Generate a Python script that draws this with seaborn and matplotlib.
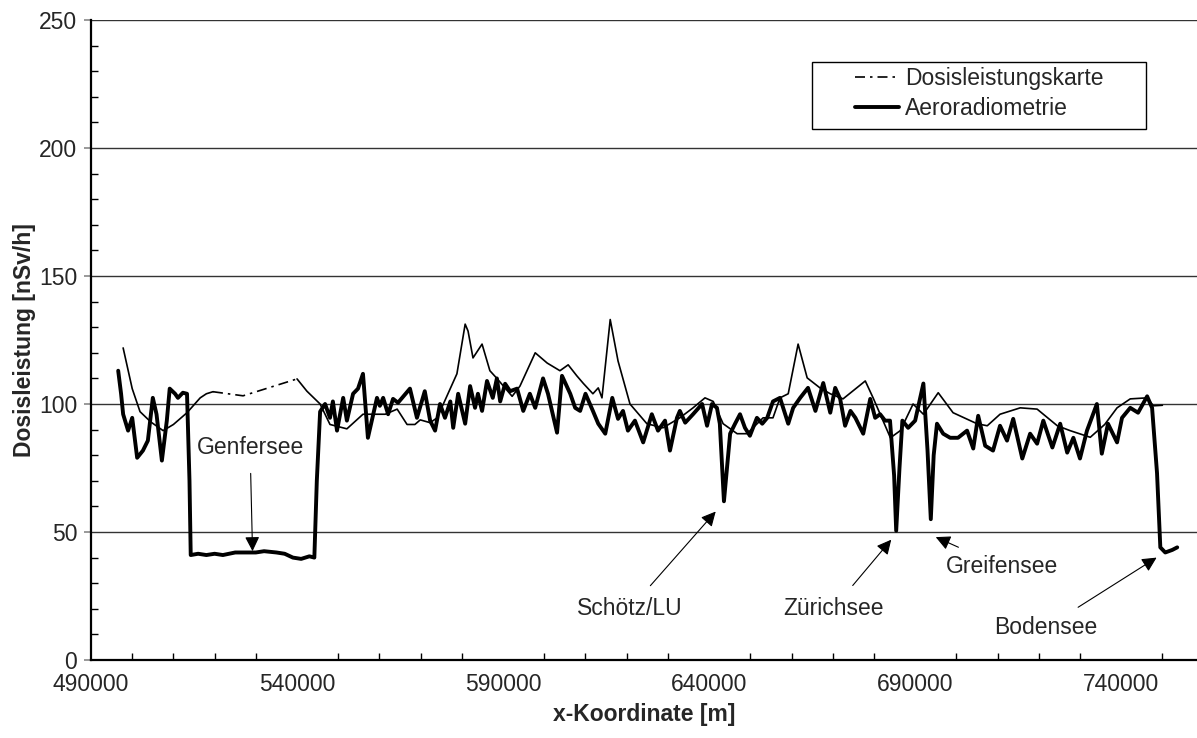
import numpy as np
import pandas as pd
import matplotlib
matplotlib.use('Agg')
import matplotlib.pyplot as plt
from matplotlib.lines import Line2D
from matplotlib.patches import Rectangle
from matplotlib.ticker import MultipleLocator
import seaborn as sns

# Aeroradiometrie (thick line)
aero_x = [496600, 497300, 497800, 499000, 500000, 501200, 502600, 503800, 505000, 505900,
          507200, 508400, 509100, 510400, 511100, 512300, 513300, 513900, 514200, 516000,
          518000, 520000, 522000, 525000, 527000, 530000, 532000, 535000, 537000, 539000,
          541000, 543000, 544200, 544800, 545600, 546800, 548000, 548700, 549700, 551200,
          552100, 553600, 554800, 556000, 557200, 559400, 560100, 560900, 562100, 563300,
          564500, 567400, 569100, 571000, 572300, 573500, 574700, 575900, 577200, 577900,
          579100, 580800, 582000, 583200, 583900, 584900, 586100, 587500, 588500, 589300,
          590500, 591700, 593400, 594900, 596500, 597800, 599700, 600900, 603100, 604300,
          606300, 607500, 608700, 610000, 611800, 613100, 614800, 616500, 617900, 619100,
          620300, 622000, 624000, 626100, 627600, 629300, 630500, 632200, 632900, 634200,
          636100, 638300, 639500, 640700, 641900, 642600, 643600, 645100, 646300, 647500,
          648700, 649900, 651600, 652900, 654100, 655500, 657200, 659200, 660400, 662100,
          664000, 665800, 667700, 669400, 670600, 671800, 673000, 674300, 675500, 677400,
          679100, 680300, 681500, 682700, 683900, 684900, 685400, 686200, 686900, 688300,
          690000, 692000, 693000, 693800, 694500, 695300, 696800, 698500, 700400, 702600,
          704100, 705300, 707000, 708900, 710600, 712300, 713800, 716000, 717900, 719600,
          721100, 723300, 725200, 726900, 728400, 730000, 731700, 734100, 735300, 736800,
          739000, 740200, 742200, 744100, 746300, 747500, 748700, 749500, 750700, 752400,
          753600]
aero_y = [113, 104, 96, 89.6, 94.6, 79, 81.8, 85.7, 102.4, 96,
          77.9, 93.5, 106, 104, 102.4, 104.4, 104, 70, 41, 41.5,
          41, 41.5, 41, 42, 42, 42, 42.5, 42, 41.5, 40,
          39.5, 40.5, 40, 70, 97, 100, 94.6, 101, 89.6, 102.4,
          93.5, 104, 106, 111.8, 86.8, 102.4, 99.3, 102.4, 96, 102,
          100.5, 106, 94.6, 105, 93.5, 89.6, 100, 94.6, 101, 90.7,
          104, 92.3, 107, 98.5, 104, 97.3, 109, 102.4, 110, 101,
          107.9, 105, 106, 97.3, 104, 98.5, 110, 104, 88.8, 111,
          104, 98.5, 97.3, 104, 97.3, 92.3, 88.4, 102.4, 94.2, 97.3,
          89.6, 93.5, 85, 96, 89.6, 93.5, 81.8, 94.6, 97.3, 92.7,
          96, 100, 91.5, 100, 98.5, 92.3, 62, 88.4, 92.3, 96,
          90.7, 87.6, 94.6, 92.3, 94.6, 101, 102.4, 92.3, 98.5, 102.4,
          106.3, 97.3, 108.2, 96.6, 106.3, 102, 91.5, 97.3, 94.6, 88.4,
          102, 94.6, 96, 93.5, 93.5, 72, 50.5, 75, 93.5, 90.7,
          93.5, 108, 82, 55, 80, 92.3, 88.4, 86.8, 86.8, 89.6,
          82.6, 95.4, 83.7, 81.8, 91.5, 85.7, 94.2, 78.7, 88.4, 84.5,
          93.5, 83, 92.3, 81, 86.8, 78.7, 89.6, 100, 80.6, 92.3,
          85, 94.6, 98.5, 96.6, 103, 98.5, 73, 44, 42, 43,
          44]

# Dosisleistungskarte (thin line); the middle part is an interpolated gap
map_west_x = [497800, 500000, 501900, 504500, 507500, 510000, 513300, 516500, 518000, 519600]
map_west_y = [121.9, 106, 97, 93, 89.6, 92, 96.6, 102.4, 104, 104.8]
map_gap_x = [519600, 526900, 540000]
map_gap_y = [104.8, 103.2, 109.8]
map_east_x = [540000, 542400, 545600, 548000, 552100, 556000, 561400, 564300, 566700, 568600,
              569900, 572300, 574000, 578800, 580800, 581500, 582700, 584900, 586800, 588500,
              592200, 594100, 597800, 600700, 603800, 605800, 607900, 609500, 611800, 613100,
              614000, 616000, 617900, 620800, 624900, 628800, 632900, 636100, 639000, 641000,
              643400, 646800, 649200, 653100, 655500, 657200, 659200, 661600, 663800, 666900,
              669400, 672500, 677900, 679800, 684000, 686400, 689500, 692000, 695600, 699200,
              705000, 707500, 710600, 715500, 719600, 724500, 727600, 732500, 736000, 739000,
              742200, 746300, 747800, 750000]
map_east_y = [109.8, 105, 100, 92, 90.3, 96, 96, 98, 92, 92,
              93.8, 92.7, 94.6, 111.8, 131.2, 128.5, 118, 123.4, 113, 110,
              103, 107, 120, 116, 113, 115.3, 111, 108, 104, 106.3,
              102.4, 133, 116.8, 100, 92.3, 90.7, 94.6, 98.5, 102.4, 101,
              92.3, 88.4, 88.4, 94.6, 94.6, 102.4, 104, 123.4, 110.2, 106.3,
              104, 102, 109, 102.4, 86.8, 89.6, 100, 96, 104.4, 96.6,
              92.3, 91.5, 96, 98.5, 98, 91.5, 89.6, 87, 92, 98.5,
              102, 102.4, 99.3, 99.5]

# annotations: label, arrow tip (x, y), text centre (x, y)
lake_names = ['Genfersee', 'Schötz/LU', 'Zürichsee', 'Greifensee', 'Bodensee']
lake_tip_x = [529200, 641600, 684200, 695000, 748600]
lake_tip_y = [42.5, 58, 47, 48, 40]
lake_txt_x = [528600, 620800, 670100, 711000, 721600]
lake_txt_y = [83, 20, 20, 36.5, 12.5]

FS = 16.5

sns.set_theme(style='white')
plt.rcParams['font.family'] = ['Liberation Sans', 'DejaVu Sans']
plt.rcParams['font.size'] = FS

fig = plt.figure(figsize=(11.97, 7.38), dpi=100)
ax = fig.add_axes([91 / 1197, 78 / 738, 1106 / 1197, 640 / 738])

aero = pd.DataFrame({'x': aero_x, 'y': aero_y})
west = pd.DataFrame({'x': map_west_x, 'y': map_west_y})
gap = pd.DataFrame({'x': map_gap_x, 'y': map_gap_y})
east = pd.DataFrame({'x': map_east_x, 'y': map_east_y})

dashdot = (0, (6, 3, 1.5, 3))
sns.lineplot(data=west, x='x', y='y', ax=ax, color='black', lw=1.2, sort=False, estimator=None)
sns.lineplot(data=gap, x='x', y='y', ax=ax, color='black', lw=1.2, sort=False, estimator=None,
             linestyle=dashdot)
sns.lineplot(data=east, x='x', y='y', ax=ax, color='black', lw=1.2, sort=False, estimator=None)
sns.lineplot(data=aero, x='x', y='y', ax=ax, color='black', lw=2.8, sort=False, estimator=None,
             solid_joinstyle='round')

for name, tx, ty, lx, ly in zip(lake_names, lake_tip_x, lake_tip_y, lake_txt_x, lake_txt_y):
    ax.annotate(name, xy=(tx, ty), xytext=(lx, ly), ha='center', va='center', fontsize=FS,
                arrowprops=dict(arrowstyle='-|>', color='black', lw=0.8, mutation_scale=22,
                                shrinkA=8, shrinkB=0))

ax.set_xlim(490000, 758400)
ax.set_ylim(0, 250)
ax.xaxis.set_minor_locator(MultipleLocator(10000))
ax.yaxis.set_major_locator(MultipleLocator(50))
ax.yaxis.set_minor_locator(MultipleLocator(10))
ax.set_xticks(np.arange(490000, 758401, 50000))
ax.set_xticklabels([str(v) for v in range(490000, 758401, 50000)])

ax.grid(axis='y', which='major', color='#333333', lw=1.0)
ax.set_axisbelow(True)
for s in ['top', 'right']:
    ax.spines[s].set_visible(False)
for s in ['left', 'bottom']:
    ax.spines[s].set_color('black')
    ax.spines[s].set_linewidth(1.6)

ax.tick_params(axis='x', which='major', direction='inout', length=9, width=1, color='#555555',
               labelsize=FS, pad=5)
ax.tick_params(axis='x', which='minor', direction='in', length=5, width=1, color='black', bottom=True)
ax.tick_params(axis='y', which='major', direction='out', length=5, width=1.2, color='#888888',
               labelsize=FS, pad=5, left=True)
ax.tick_params(axis='y', which='minor', direction='in', length=5, width=1, color='black', left=True)

ax.set_xlabel('x-Koordinate [m]', fontsize=FS, fontweight='bold', labelpad=5)
ax.set_ylabel('Dosisleistung [nSv/h]', fontsize=FS, fontweight='bold', labelpad=2)

# legend with its own frame
ax.add_patch(Rectangle(((812 - 91) / 1106, (660 - 129) / 640), (1146 - 812) / 1106, 67 / 640,
                       transform=ax.transAxes, facecolor='white', edgecolor='black', lw=1.0,
                       zorder=5))
handles = [Line2D([], [], color='black', lw=1.2, linestyle=dashdot),
           Line2D([], [], color='black', lw=2.8)]
leg = ax.legend(handles, ['Dosisleistungskarte', 'Aeroradiometrie'], loc='upper left',
                bbox_to_anchor=((855 - 91) / 1106, (660 - 67) / 640), frameon=False,
                borderpad=0, borderaxespad=0, handlelength=1.9, handletextpad=0.3,
                labelspacing=0.3, fontsize=FS)
leg.set_zorder(6)

fig.savefig('out.png', dpi=100)
